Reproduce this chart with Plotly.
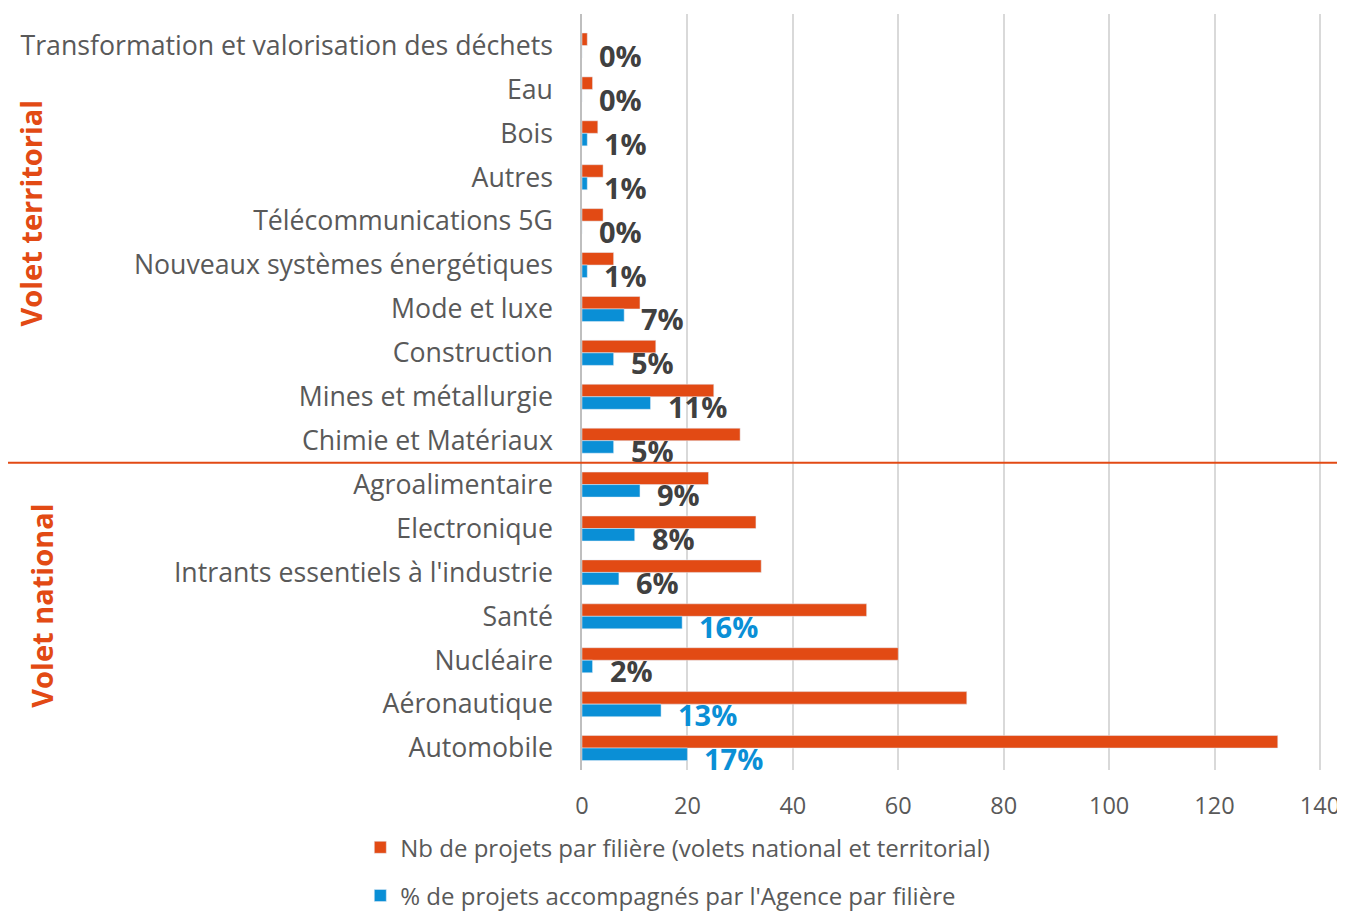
import plotly.graph_objects as go

categories = [
    "Transformation et valorisation des déchets", "Eau", "Bois", "Autres",
    "Télécommunications 5G", "Nouveaux systèmes énergétiques", "Mode et luxe",
    "Construction", "Mines et métallurgie", "Chimie et Matériaux",
    "Agroalimentaire", "Electronique", "Intrants essentiels à l'industrie",
    "Santé", "Nucléaire", "Aéronautique", "Automobile",
]
nb_projets = [1, 2, 3, 4, 4, 6, 11, 14, 25, 30, 24, 33, 34, 54, 60, 73, 132]
nb_accompagnes = [0, 0, 1, 1, 0, 1, 8, 6, 13, 6, 11, 10, 7, 19, 2, 15, 20]
pct_labels = ["0%", "0%", "1%", "1%", "0%", "1%", "7%", "5%", "11%", "5%",
              "9%", "8%", "6%", "16%", "2%", "13%", "17%"]
highlight = [False] * 13 + [True, False, True, True]

ORANGE = "#E24A14"
BLUE = "#0A8FD6"
DARK = "#404040"
GREY = "#595959"

fig = go.Figure()
fig.add_trace(go.Bar(
    y=categories, x=nb_projets, orientation="h",
    name="Nb de projets par filière (volets national et territorial)",
    marker_color=ORANGE, legendgroup="a",
))
fig.add_trace(go.Bar(
    y=categories, x=nb_accompagnes, orientation="h",
    name="% de projets accompagnés par l'Agence par filière",
    marker_color=BLUE, legendgroup="b",
))

for cat, v, lab, hl in zip(categories, nb_accompagnes, pct_labels, highlight):
    fig.add_annotation(
        x=v, y=cat, text="<b>%s</b>" % lab, showarrow=False,
        xanchor="left", yanchor="middle", xshift=15, yshift=-10,
        font=dict(family="Open Sans", size=29, color=BLUE if hl else DARK),
    )

fig.add_shape(type="line", xref="paper", yref="y",
              x0=-0.777, x1=1.028, y0=9.5, y1=9.5,
              line=dict(color=ORANGE, width=2))

fig.add_annotation(xref="paper", yref="paper", x=-0.746, y=0.737,
                   xanchor="center", yanchor="middle",
                   text="<b>Volet territorial</b>", textangle=-90,
                   showarrow=False,
                   font=dict(family="Open Sans", size=29, color=ORANGE))
fig.add_annotation(xref="paper", yref="paper", x=-0.731, y=0.217,
                   xanchor="center", yanchor="middle",
                   text="<b>Volet national</b>", textangle=-90,
                   showarrow=False,
                   font=dict(family="Open Sans", size=29, color=ORANGE))

# figure offset by the browser's default 8px body margin
fig.update_layout(
    width=1337, height=903,
    margin=dict(l=574, r=24, t=6, b=141, autoexpand=False),
    paper_bgcolor="white", plot_bgcolor="white",
    barmode="group", bargap=0.43, bargroupgap=0,
    font=dict(family="Open Sans", color=GREY),
    showlegend=True,
    legend=dict(x=-0.30, y=-0.073, xanchor="left", yanchor="top",
                orientation="v", traceorder="grouped", tracegroupgap=14,
                font=dict(size=24, color=GREY)),
    xaxis=dict(range=[0, 140.2], dtick=20, showgrid=True, gridcolor="#d9d9d9",
               gridwidth=1.5, zeroline=False,
               tickfont=dict(size=23.5, color=GREY),
               ticklabeloverflow="allow",
               ticklabelstandoff=19, showline=False),
    yaxis=dict(type="category", categoryorder="array", categoryarray=categories,
               autorange="reversed", showline=True, linecolor="#bfbfbf",
               linewidth=1.5, tickfont=dict(size=26.7, color=GREY),
               ticklabelstandoff=22, showgrid=False),
)

fig.write_html("out.html")
